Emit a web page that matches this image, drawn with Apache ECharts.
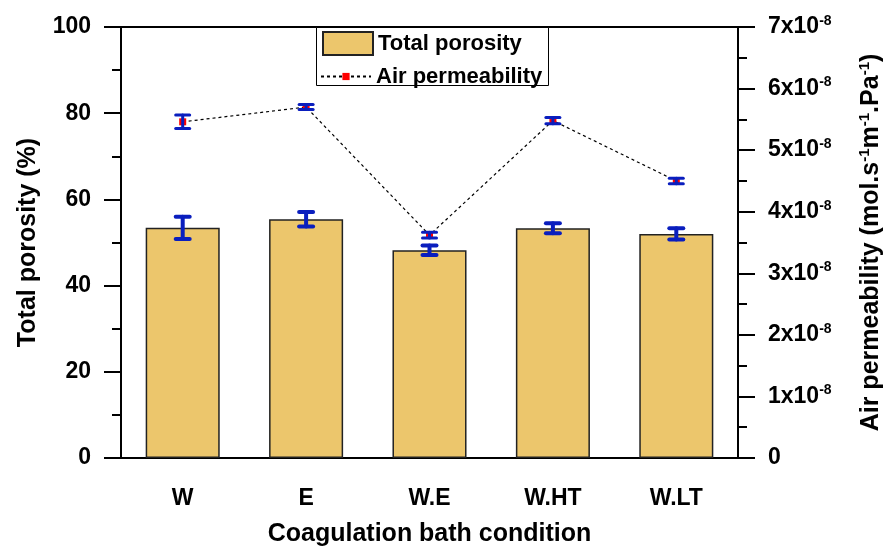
<!DOCTYPE html>
<html>
<head>
<meta charset="utf-8">
<script src="https://cdn.jsdelivr.net/npm/echarts@6/dist/echarts.min.js"></script>
<style>
  html, body { margin: 0; padding: 0; background: #fff; }
  #chart { width: 883px; height: 546px; }
</style>
</head>
<body>
<div id="chart"></div>
<script>
// Coagulation bath conditions and measured membrane properties
const categories = ['W', 'E', 'W.E', 'W.HT', 'W.LT'];
const porosity = [53.4, 55.4, 48.2, 53.3, 52.0];          // %
const porosityErr = [2.6, 1.7, 1.1, 1.15, 1.3];
const permeability = [5.46, 5.70, 3.62, 5.48, 4.50];       // x10^-8 mol.s-1.m-1.Pa-1
const permeabilityErr = [0.11, 0.04, 0.045, 0.05, 0.045];
const porosityTicks = [0, 20, 40, 60, 80, 100];
const permeabilityTicks = [0, 1, 2, 3, 4, 5, 6, 7];        // x10^-8

const FONT = 'Liberation Sans, Arial, sans-serif';
const BAR_FILL = '#ECC66C';
const ERR_BLUE = '#0A1EBE';

function errorBars(values, errs, capHalf, width) {
  return function (params, api) {
    const i = params.dataIndex;
    const top = api.coord([i, values[i] + errs[i]]);
    const bot = api.coord([i, values[i] - errs[i]]);
    const style = { stroke: ERR_BLUE, lineWidth: width, lineCap: 'round' };
    return {
      type: 'group',
      children: [
        { type: 'line', shape: { x1: top[0], y1: top[1], x2: bot[0], y2: bot[1] }, style },
        { type: 'line', shape: { x1: top[0] - capHalf, y1: top[1], x2: top[0] + capHalf, y2: top[1] }, style },
        { type: 'line', shape: { x1: bot[0] - capHalf, y1: bot[1], x2: bot[0] + capHalf, y2: bot[1] }, style }
      ]
    };
  };
}

const chart = echarts.init(document.getElementById('chart'), null, { renderer: 'canvas' });

const axisLineStyle = { color: '#000', width: 2 };
const tickStyle = { color: '#000', width: 2 };
const legendText = { fontFamily: FONT, fontWeight: 'bold', fontSize: 22, color: '#000' };

chart.setOption({
  animation: false,
  backgroundColor: '#fff',
  textStyle: { fontFamily: FONT },
  grid: {
    left: 121, right: 145, top: 27, bottom: 88,
    outerBoundsMode: 'none', containLabel: false,
    show: true, borderColor: '#000', borderWidth: 2
  },
  // legend frame around both entries
  graphic: [{
    type: 'rect', z: 100,
    shape: { x: 316.5, y: 27.5, width: 232, height: 58 },
    style: { fill: '#fff', stroke: '#000', lineWidth: 1 }
  }],
  legend: [
    {
      left: 322, top: 31, padding: 0, z: 110,
      itemWidth: 50, itemHeight: 23, itemGap: 6,
      textStyle: legendText,
      data: [{ name: 'Total porosity', icon: 'rect' }]
    },
    {
      left: 320, top: 65.5, padding: 0, z: 110,
      itemWidth: 50, itemHeight: 9, itemGap: 6,
      textStyle: legendText,
      data: [{ name: 'Air permeability' }]
    }
  ],
  xAxis: {
    type: 'category',
    data: categories,
    boundaryGap: true,
    axisLine: { lineStyle: axisLineStyle },
    axisTick: { alignWithLabel: true, length: 17, lineStyle: tickStyle },
    axisLabel: { margin: 29, color: '#000', fontFamily: FONT, fontWeight: 'bold', fontSize: 23 },
    name: 'Coagulation bath condition',
    nameLocation: 'middle', nameGap: 64,
    nameTextStyle: { color: '#000', fontFamily: FONT, fontWeight: 'bold', fontSize: 25 },
    splitLine: { show: false }
  },
  yAxis: [
    {
      type: 'value', min: porosityTicks[0], max: porosityTicks[porosityTicks.length - 1], interval: 20,
      position: 'left',
      axisLine: { show: true, lineStyle: axisLineStyle },
      axisTick: { show: true, length: 17, lineStyle: tickStyle },
      minorTick: { show: true, splitNumber: 2, length: 9, lineStyle: tickStyle },
      axisLabel: { margin: 30, color: '#000', fontFamily: FONT, fontWeight: 'bold', fontSize: 23 },
      splitLine: { show: false },
      name: 'Total porosity (%)',
      nameLocation: 'middle', nameGap: 80, nameRotate: 90,
      nameTextStyle: { color: '#000', fontFamily: FONT, fontWeight: 'bold', fontSize: 25 }
    },
    {
      type: 'value', min: permeabilityTicks[0], max: permeabilityTicks[permeabilityTicks.length - 1], interval: 1,
      position: 'right',
      axisLine: { show: true, lineStyle: axisLineStyle },
      axisTick: { show: true, length: 17, lineStyle: tickStyle },
      minorTick: { show: true, splitNumber: 2, length: 9, lineStyle: tickStyle },
      axisLabel: {
        margin: 30, color: '#000', fontFamily: FONT, fontWeight: 'bold', fontSize: 23,
        formatter: v => v === 0 ? '{m|0}' : `{m|${v}x10}{s|-8}`,
        rich: {
          m: { fontFamily: FONT, fontWeight: 'bold', fontSize: 23, color: '#000', lineHeight: 26 },
          s: { fontFamily: FONT, fontWeight: 'bold', fontSize: 14, color: '#000', verticalAlign: 'top', lineHeight: 26, padding: [0, 0, 10, 0] }
        }
      },
      splitLine: { show: false },
      name: '{m|Air permeability (mol.s}{s|-1}{m|m}{s|-1}{m|.Pa}{s|-1}{m|)}',
      nameLocation: 'middle', nameGap: 119, nameRotate: 90,
      nameTextStyle: {
        color: '#000', fontFamily: FONT, fontWeight: 'bold', fontSize: 25,
        rich: {
          m: { fontFamily: FONT, fontWeight: 'bold', fontSize: 25, color: '#000', lineHeight: 28 },
          s: { fontFamily: FONT, fontWeight: 'bold', fontSize: 15, color: '#000', verticalAlign: 'top', lineHeight: 28, padding: [0, 0, 11, 0] }
        }
      }
    }
  ],
  series: [
    {
      name: 'Total porosity',
      type: 'bar',
      yAxisIndex: 0,
      data: porosity,
      barWidth: '60%',
      itemStyle: { color: BAR_FILL, borderColor: '#222', borderWidth: 1.5 },
      z: 2
    },
    {
      name: 'porosity error',
      type: 'custom',
      yAxisIndex: 0,
      data: porosity,
      renderItem: errorBars(porosity, porosityErr, 7, 4),
      z: 4,
      silent: true
    },
    {
      name: 'Air permeability',
      type: 'line',
      yAxisIndex: 1,
      data: permeability,
      symbol: 'rect',
      symbolSize: 7,
      itemStyle: { color: '#FF0000' },
      lineStyle: { color: '#000', width: 1.2, type: [3, 3] },
      z: 5
    },
    {
      name: 'permeability error',
      type: 'custom',
      yAxisIndex: 1,
      data: permeability,
      renderItem: errorBars(permeability, permeabilityErr, 7, 3),
      z: 6,
      silent: true
    }
  ]
});
</script>
</body>
</html>
